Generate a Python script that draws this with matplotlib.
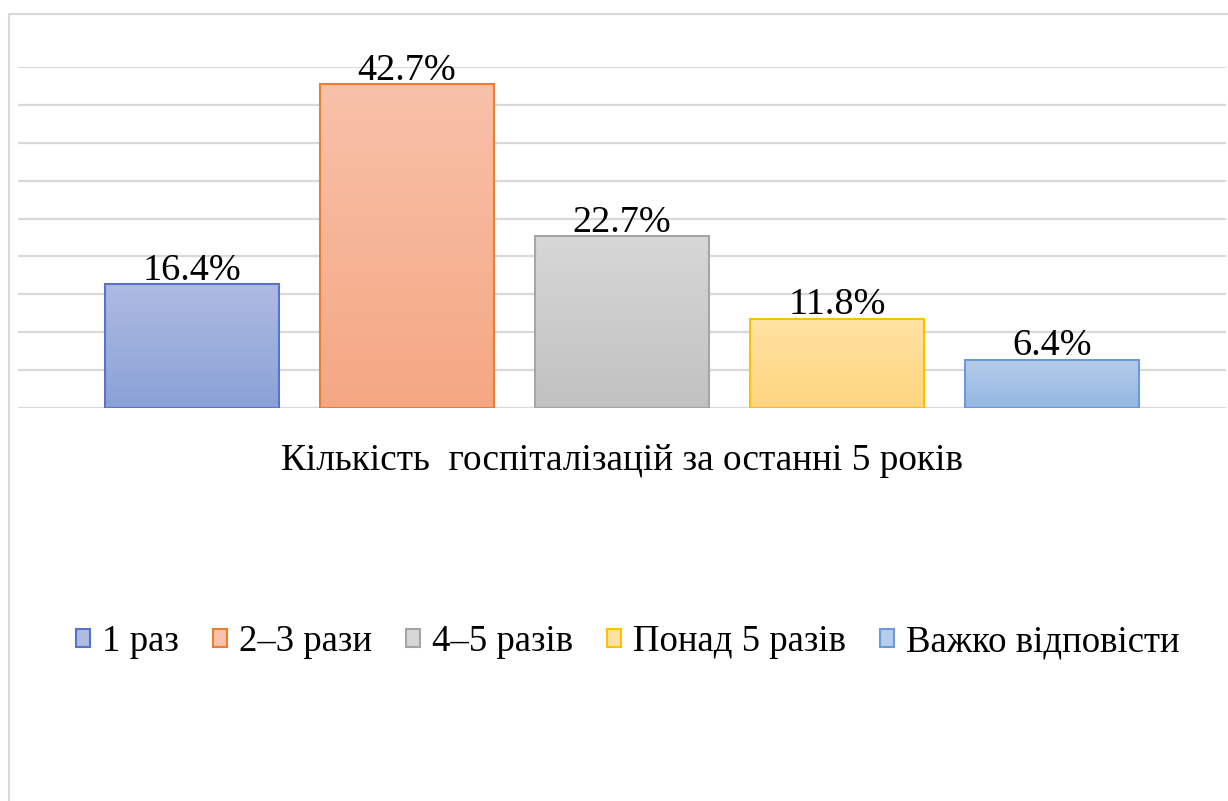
import numpy as np
import matplotlib
matplotlib.use("Agg")
import matplotlib.pyplot as plt
from matplotlib.patches import Patch, Rectangle
from matplotlib.colors import LinearSegmentedColormap

plt.rcParams['font.family'] = ['Liberation Serif', 'DejaVu Serif']

categories = ['1 раз', '2–3 рази', '4–5 разів', 'Понад 5 разів', 'Важко відповісти']
values = [16.4, 42.7, 22.7, 11.8, 6.4]
xlabel = 'Кількість  госпіталізацій за останні 5 років'

# (top colour, bottom colour, edge colour) for the gradient fills
top_colors = ['#AEBBE2', '#F8C1A9', '#D7D7D7', '#FFE2A3', '#B6CDEB']
bottom_colors = ['#8AA1D7', '#F5A783', '#C1C1C1', '#FFD57F', '#93B6E3']
edge_colors = ['#5B72C9', '#ED7D31', '#A5A5A5', '#FFC000', '#6A9BD8']

W, H = 1228, 801
fig = plt.figure(figsize=(W / 100, H / 100), dpi=100)

# outer chart border (left + top visible)
fig.patches.append(Rectangle((8.5 / W, -0.1), 1.2, 1.1 - 14 / H, transform=fig.transFigure,
                             fill=False, edgecolor='#D9D9D9', linewidth=1.5, zorder=0))

ax = fig.add_axes([18 / W, 1 - 408 / H, (1226 - 18) / W, (408 - 67) / H])

width = 174 / 215
half = width / 2 + 87 / 215
x = np.arange(len(values))
ax.set_yticks(np.arange(0, 46, 5))
ax.yaxis.grid(True, color='#D9D9D9', linewidth=1.6)
ax.set_axisbelow(True)
ax.tick_params(left=False, bottom=False, labelleft=False, labelbottom=False)
for s in ax.spines.values():
    s.set_visible(False)

bars = ax.bar(x, values, width=width, facecolor='none', edgecolor=edge_colors,
              linewidth=1.5, zorder=3)
for b, tc, bc in zip(bars, top_colors, bottom_colors):
    cmap = LinearSegmentedColormap.from_list('g', [bc, tc])
    grad = np.linspace(0, 1, 256).reshape(-1, 1)
    x0, y0 = b.get_x(), b.get_y()
    im = ax.imshow(grad, cmap=cmap, origin='lower', aspect='auto',
                   extent=[x0, x0 + b.get_width(), y0, y0 + b.get_height()], zorder=2)
    im.set_clip_path(b)

for xi, v in zip(x, values):
    ax.annotate(f'{v}%', (xi, v), xytext=(0, 3), textcoords='offset points',
                ha='center', va='baseline', fontsize=27.5, color='black')

ax.set_xlim(-half, len(values) - 1 + half)
ax.set_ylim(0, 45)

fig.text(622 / W, 1 - 461 / H, xlabel, ha='center', va='center', fontsize=26.8)

handles = [Patch(facecolor=m, edgecolor=e, linewidth=1.5)
           for m, e in zip(top_colors, edge_colors)]
fig.legend(handles, categories, loc='center', bbox_to_anchor=(628 / W, 1 - 642 / H),
           ncol=5, frameon=False, fontsize=26.5, handlelength=0.38, handleheight=0.38,
           handletextpad=0.33, columnspacing=0.92, borderpad=0)

fig.savefig('out.png', dpi=100)
